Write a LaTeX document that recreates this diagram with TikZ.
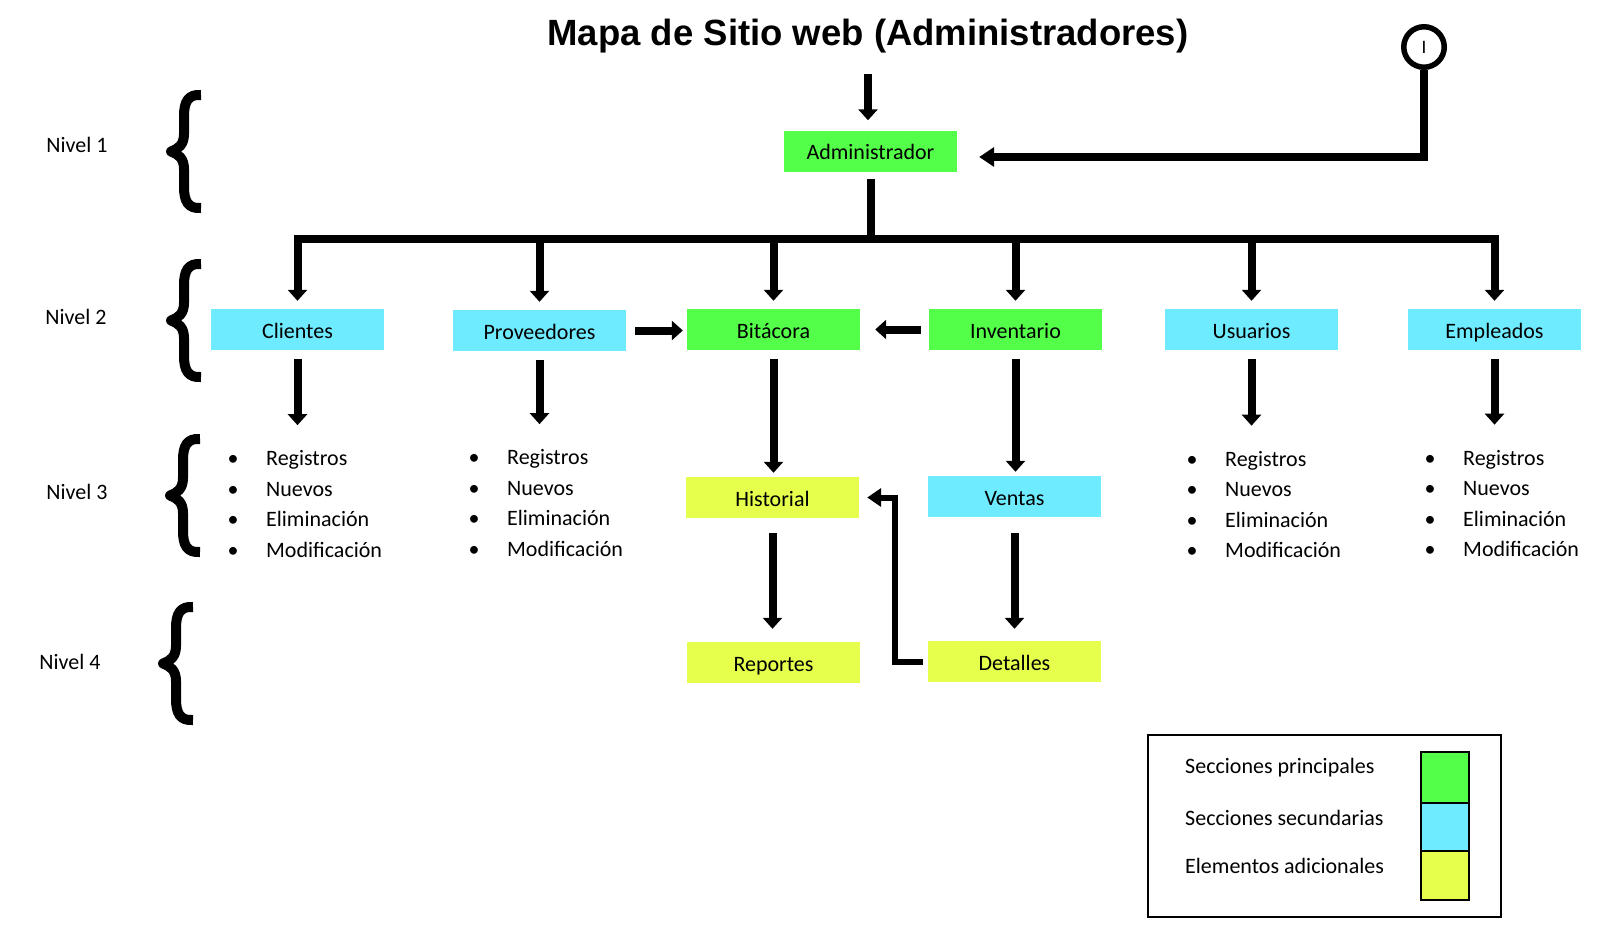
\documentclass[tikz,border=0pt]{standalone}
\usepackage{fontspec}
\setmainfont{Carlito}
\newfontfamily\titulofont{Liberation Sans}
\usetikzlibrary{arrows.meta}
\definecolor{verde}{RGB}{84,255,74}
\definecolor{celeste}{RGB}{111,235,255}
\definecolor{amarillo}{RGB}{230,255,77}

\begin{document}
\begin{tikzpicture}[x=1pt,y=-1pt,
  caja/.style={minimum width=173pt,minimum height=41pt,inner sep=0pt,text height=19pt,text depth=2pt,font=\fontsize{22}{26}\selectfont},
  flecha/.style={line width=8pt,-{Triangle[width=19pt,length=11pt]}},
  linea/.style={line width=8pt},
  punto/.style={inner sep=0pt,anchor=base west,font=\fontsize{22}{26}\selectfont},
  txt/.style={font=\fontsize{22}{26}\selectfont}]
\useasboundingbox (0,0) rectangle (1614,932);

% titulo y nodo inicial
\node[anchor=base,inner sep=0pt,font=\titulofont\bfseries\fontsize{36.5}{40}\selectfont] (titulo) at (868,45) {Mapa de Sitio web (Administradores)};
\node[circle,draw,line width=5.5pt,minimum size=40.5pt,inner sep=0pt,font=\fontsize{19}{20}\selectfont] (inicio) at (1424,47) {I};

% nivel 1 y 2
\node[caja,fill=verde] (admin) at (870.5,151) {Administrador};
\node[caja,fill=celeste] (clientes) at (297.5,329.5) {Clientes};
\node[caja,fill=celeste] (proveedores) at (539.5,330.5) {Proveedores};
\node[caja,fill=verde] (bitacora) at (773.5,329.5) {Bitácora};
\node[caja,fill=verde] (inventario) at (1015.5,329.5) {Inventario};
\node[caja,fill=celeste] (usuarios) at (1251.5,329.5) {Usuarios};
\node[caja,fill=celeste] (empleados) at (1494.5,329.5) {Empleados};

% nivel 3 y 4
\node[caja,fill=amarillo] (historial) at (772.5,497.5) {Historial};
\node[caja,fill=celeste] (ventas) at (1014.5,496.5) {Ventas};
\node[caja,fill=amarillo] (reportes) at (773.5,662.5) {Reportes};
\node[caja,fill=amarillo] (detalles) at (1014.5,661.5) {Detalles};

% listas
\foreach \l/\x/\y in {cl/226/465.5, pr/467/464.5, us/1185/466, em/1423/465}
  \foreach \elem [count=\i] in {Registros,Nuevos,Eliminación,Modificación}
    \node[punto] (\l\i) at (\x,{\y+30.5*(\i-1)}) {\makebox[14pt]{\textbullet}\hspace{26pt}\elem};

% niveles con llaves
\foreach \n/\lx/\ly/\bx/\by in {1/77/145/166/90, 2/76/317/166/259, 3/77/492/165/434, 4/70/662/158/602}{
  \node[txt] (nivel\n) at (\lx,\ly) {Nivel \n};
  \draw[line width=10pt,line join=round] ({\bx+35},{\by+5}) .. controls ({\bx+22},{\by+4}) and ({\bx+18},{\by+12}) .. ({\bx+18},{\by+26})
    -- ({\bx+18},{\by+44}) .. controls ({\bx+18},{\by+55}) and ({\bx+12},{\by+59}) .. ({\bx+5},{\by+61.5})
    .. controls ({\bx+12},{\by+64}) and ({\bx+18},{\by+68}) .. ({\bx+18},{\by+79})
    -- ({\bx+18},{\by+97}) .. controls ({\bx+18},{\by+111}) and ({\bx+22},{\by+119}) .. ({\bx+35},{\by+118});
}

% conexiones
\draw[flecha,shorten >=10pt] ([yshift=-29pt]titulo.base) -- (titulo.base |- admin.north);
\draw[line width=8pt,-{Triangle[width=19pt,length=15pt]},shorten >=22pt] (inicio.south) |- ([yshift=-6pt]admin.east);
\coordinate (bus) at (870.5,239);
\draw[linea,shorten <=7pt] (admin.south) -- (bus);
\draw[linea,line cap=rect] (clientes |- bus) -- (empleados |- bus);
\foreach \n in {clientes,proveedores,bitacora,inventario,usuarios,empleados}
  \draw[flecha,shorten >=8pt] (\n |- bus) -- (\n.north);
\foreach \n/\l in {clientes/cl, proveedores/pr, usuarios/us, empleados/em}
  \draw[flecha,shorten <=9pt,shorten >=25pt] (\n.south) -- (\n.south |- \l1.north);
\draw[flecha,shorten <=9pt,shorten >=4pt] (proveedores.east) -- (proveedores.east -| bitacora.west);
\draw[flecha,shorten <=8pt,shorten >=15pt] (inventario.west) -- (bitacora.east);
\draw[flecha,shorten <=9pt,shorten >=4pt] (bitacora.south) -- (bitacora.south |- historial.north);
\draw[flecha,shorten <=9pt,shorten >=4pt] (inventario.south) -- (inventario.south |- ventas.north);
\draw[flecha,shorten <=15pt,shorten >=13pt] (historial.south) -- (historial.south |- reportes.north);
\draw[flecha,shorten <=16pt,shorten >=12pt] (ventas.south) -- (ventas.south |- detalles.north);
\draw[line width=6pt,-{Triangle[width=18pt,length=14pt]},shorten <=5pt,shorten >=8pt] (detalles.west) -- ++(-33,0) |- (historial.east);

% leyenda
\node[draw,line width=2pt,minimum width=353pt,minimum height=182pt,inner sep=0pt] (leyenda) at (1324.5,826) {};
\foreach \c/\t/\ty/\sy/\h [count=\i] in {verde/Secciones principales/773/777.5/51, celeste/Secciones secundarias/825/827/48, amarillo/Elementos adicionales/873/875.5/49}{
  \node[punto] (ley\i) at (1185,\ty) {\t};
  \node[draw,line width=1.2pt,fill=\c,minimum width=48pt,minimum height=\h pt,inner sep=0pt] (color\i) at (1445,\sy) {};
}
\end{tikzpicture}
\end{document}
